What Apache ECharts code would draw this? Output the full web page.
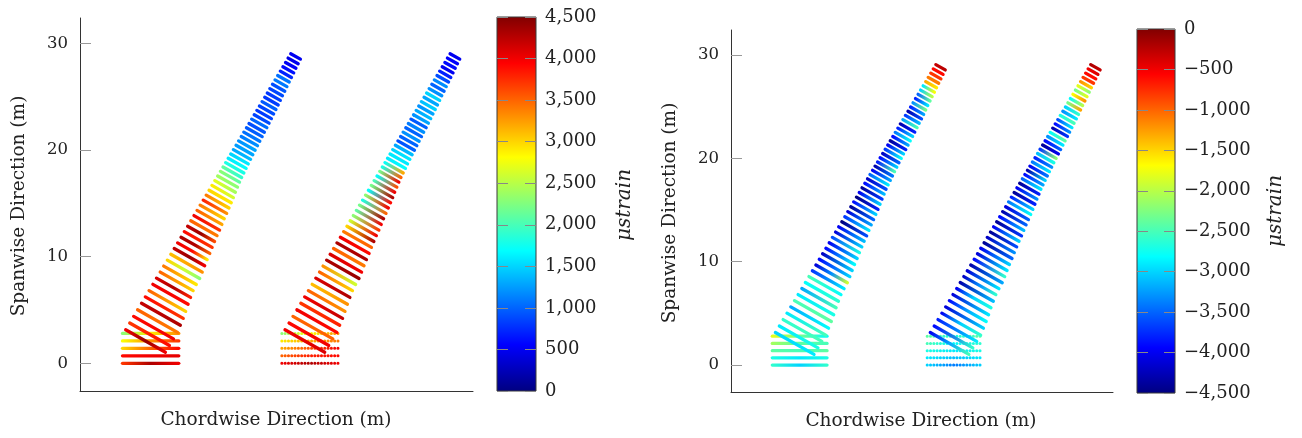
<!DOCTYPE html>
<html><head><meta charset="utf-8">
<script src="https://cdn.jsdelivr.net/npm/echarts@6/dist/echarts.min.js"></script>
<style>html,body{margin:0;padding:0;background:#fff}#c{width:1302px;height:438px}</style>
</head><body><div id="c"></div>
<script>
// ---------- mesh geometry (m) : chordwise strips of the wing ----------
const stripLeX = [0.30,0.68,1.05,1.42,1.79,2.15,2.50,2.86,3.20,3.55,3.88,4.22,4.55,4.87,5.19,5.51,5.82,6.13,6.43,6.73,7.02,7.31,7.60,7.88,8.15,8.42,8.69,8.96,9.22,9.46,9.71,9.95,10.19,10.44,10.69,10.93,11.18,11.42,11.67,11.91,12.16,12.40,12.65,12.89,13.14,13.39,13.63,13.87,14.12,14.36,14.61,14.86,15.10,15.35,15.59,15.84];
const stripLeY = [3.15,3.78,4.40,5.02,5.63,6.23,6.82,7.41,7.99,8.56,9.12,9.68,10.23,10.77,11.30,11.83,12.35,12.86,13.37,13.86,14.35,14.84,15.31,15.78,16.24,16.69,17.14,17.58,18.01,18.42,18.83,19.24,19.64,20.05,20.46,20.87,21.28,21.69,22.10,22.50,22.91,23.32,23.73,24.14,24.55,24.96,25.36,25.77,26.18,26.59,27.00,27.41,27.82,28.23,28.64,29.05];
const stripTeX = [4.04,4.42,4.80,5.18,5.45,5.72,5.95,6.18,6.41,6.65,6.95,7.27,7.51,7.74,7.97,8.22,8.44,8.67,8.90,9.14,9.36,9.58,9.81,10.03,10.24,10.44,10.63,10.83,11.02,11.22,11.43,11.64,11.84,12.06,12.27,12.49,12.71,12.93,13.15,13.36,13.59,13.80,14.02,14.23,14.45,14.66,14.86,15.06,15.28,15.48,15.70,15.91,16.12,16.33,16.54,16.75];
const stripTeY = [1.04,1.67,2.29,2.90,3.57,4.22,4.87,5.54,6.18,6.82,7.39,7.96,8.56,9.15,9.73,10.31,10.88,11.43,11.98,12.50,13.03,13.56,14.07,14.57,15.06,15.55,16.05,16.53,17.00,17.43,17.86,18.29,18.71,19.14,19.57,19.99,20.42,20.84,21.27,21.68,22.11,22.53,22.96,23.39,23.81,24.24,24.67,25.10,25.53,25.96,26.39,26.82,27.25,27.68,28.11,28.54];
const rootY = [0, 0.7, 1.4, 2.1, 2.8];
const rootLeX = 0.0, rootTeX = 5.3;
const secondWingOffset = 15.0;   // chordwise offset of the second surface

// ---------- strain values (microstrain), LE -> TE along each strip ----------
const tensionUpperRoot = [[3700,4300,4000],[3900,4000,4050],[3000,3500,3900],[2800,3300,3700],[2300,2900,3300]];
const tensionUpperStrips = [[4000,4400,4000],[3700,3900],[3900,4000],[3500,3400],[4200,4300],[3900,3700],[3500,3000],[4000,3900],[4100,4300,3800],[3500,3000],
 [3400,2900],[3000,2600,2300],[3100,3300],[4200,4400,4000],[4000,3900,2900],[4300,4300,3500],[3900,3700],[4200,4400,3600],[3500,3400],[4000,3700],
 [3500,3200],[3400,3000],[3800,3300],[3400,3000],[3000,2900],[2900,2600],[2700,2400],[2400,2300],[2300,2100],[2100,1900],
 [1800,1800],[1600,1700],[1500,1600],[1300,1400],[1250,1300],[1200,1300],[1100,1200],[1050,1100],[950,1000],[900,950],
 [1000,1050],[850,900],[800,850],[850,900],[950,1000],[800,850],[800,850],[850,900],[900,950],[1100,1100],
 [1050,1100],[700,750],[600,650],[500,550],[450,500],[500,500]];
const tensionLowerRoot = [[4000,4300,4000],[3500,3800,3900],[3200,3600,4000],[2900,3200,3400],[2300,2800,3300]];
const tensionLowerStrips = [[4000,4100],[3900,4000],[3500,3500],[4000,3900],[3700,3800],[4000,4200],[3500,3300],[3100,3300],[4100,4300],[3500,3000],
 [3300,2600],[4300,4400],[4100,4000],[3500,3400],[4300,4300],[4000,3900],[3400,3500],[3000,4300],[2600,4000],[2300,3700],
 [2100,4000],[2200,4300],[1800,3500],[2300,4000],[1700,3900],[2200,4300],[2000,4000],[1700,3600],[2200,4000],[1800,3500],
 [1700,3200],[1600,1700],[1600,1600],[1500,1600],[1300,1400],[900,1000],[1000,1000],[1200,1200],[1000,1000],[1100,1200],
 [950,1000],[1200,1300],[1300,1400],[1200,1300],[1400,1500],[1300,1300],[1500,1500],[1200,1200],[1000,1000],[1150,1200],
 [900,900],[700,700],[500,500],[600,600],[550,550],[500,500]];
const compUpperRoot = [[-2600,-3000,-2600],[-2700,-2900,-2700],[-2400,-2500,-2400],[-2100,-2400,-2500],[-1800,-2300,-2800]];
const compUpperStrips = [[-3000,-2900],[-2900,-2700],[-2600,-2500],[-2900,-2500],[-3200,-2800],[-2500,-2400],[-2900,-2700],[-3200,-2500],[-2800,-2600],[-2500,-2800],
 [-3700,-2900],[-4100,-3300,-1900],[-3900,-3000],[-4200,-3000],[-3900,-2800],[-4000,-3000],[-3600,-2700],[-4100,-3000],[-4000,-3100],[-4500,-3600],
 [-3700,-2900],[-4100,-3200],[-4400,-3500],[-3900,-3000],[-4500,-3800],[-4000,-3000],[-4400,-3700],[-3900,-3100],[-4200,-3600],[-3500,-2900],
 [-4000,-3200],[-4300,-3400],[-3800,-2500],[-3900,-3000],[-4200,-3500],[-3700,-2800],[-4000,-3000],[-4400,-3800],[-3900,-3200],[-3400,-2800],
 [-3800,-3000],[-4300,-3800],[-3200,-2500],[-3700,-3100],[-4300,-3600],[-3800,-3200],[-3300,-2300],[-3800,-2900],[-3500,-2400],[-3000,-2000],
 [-2900,-1700],[-1300,-1600],[-1100,-1100],[-800,-800],[-600,-600],[-300,-250]];
const compLowerRoot = [[-3000,-3400,-3000],[-2900,-3100,-2900],[-2700,-2900,-2700],[-2500,-2800,-2600],[-2400,-2700,-2400]];
const compLowerStrips = [[-4000,-3200,-2500],[-3900,-2600],[-3800,-2900],[-4000,-3000,-2600],[-4100,-3000],[-3900,-3200,-2800],[-4100,-2900],[-4000,-3000,-2700],[-4300,-3100],[-4200,-3300,-2600],
 [-4100,-2900],[-4300,-3200],[-3900,-2600],[-4100,-2900],[-4000,-3000],[-4400,-3500],[-4200,-3300],[-4400,-3600],[-4000,-3000],[-4400,-3700],
 [-3900,-3100],[-4300,-3500],[-4100,-3500],[-3400,-2800],[-3800,-3000],[-4400,-3800],[-4000,-3300],[-4400,-3800],[-3500,-2900],[-3900,-3200],
 [-4300,-3000],[-4000,-3400],[-3400,-2900],[-3800,-3300],[-3100,-2700],[-3700,-2200],[-4400,-4000],[-3900,-3500],[-3300,-2900],[-2800,-2400],
 [-4300,-3700],[-3900,-3300],[-3600,-2900],[-2700,-2500],[-3300,-2900],[-3000,-2600],[-2300,-1300],[-2800,-2000],[-1700,-1200],[-2300,-1800],
 [-1800,-2200],[-1200,-1500],[-800,-800],[-600,-600],[-500,-400],[-200,-300]];

// ---------- axes / colorbar ticks ----------
const spanTicks = [0, 10, 20, 30];
const tensionRange = [0, 4500];
const compRange = [-4500, 0];
const cbInterval = 500;

// ---------- jet colormap ----------
const jet = [[0,[0,0,128]],[0.125,[0,0,255]],[0.375,[0,255,255]],[0.625,[255,255,0]],[0.875,[255,0,0]],[1,[128,0,0]]];
function jetColor(t){
  t = Math.max(0, Math.min(1, t));
  for (let k = 1; k < jet.length; k++) {
    if (t <= jet[k][0]) {
      const a = jet[k-1], b = jet[k], f = (t - a[0]) / (b[0] - a[0]);
      const c = a[1].map((v, j) => Math.round(v + (b[1][j] - v) * f));
      return 'rgb(' + c.join(',') + ')';
    }
  }
  return 'rgb(128,0,0)';
}
const FONT = '"DejaVu Serif", "Liberation Serif", serif';
function fmt(v){
  const s = Math.abs(v).toString().replace(/\B(?=(\d{3})+(?!\d))/g, ',');
  return (v < 0 ? '\u2212' : '') + s;
}

function stripRender(values, range, dotted){
  return function(params, api){
    const p0 = api.coord([api.value(0), api.value(1)]);
    const p1 = api.coord([api.value(2), api.value(3)]);
    const vals = values[params.dataIndex];
    const stops = vals.map((v, k) => ({offset: k / (vals.length - 1), color: jetColor((v - range[0]) / (range[1] - range[0]))}));
    const grad = new echarts.graphic.LinearGradient(p0[0], p0[1], p1[0], p1[1], stops, true);
    return {type: 'line', shape: {x1: p0[0], y1: p0[1], x2: p1[0], y2: p1[1]},
      style: dotted ? {stroke: grad, lineWidth: 3, lineCap: 'round', lineDash: [0.1, 3.2]}
                    : {stroke: grad, lineWidth: 3.3, lineCap: 'round'}};
  };
}
function rootData(offset){ return rootY.map(y => [rootLeX + offset, y, rootTeX + offset, y]); }
function stripData(offset){ return stripLeX.map((x, i) => [x + offset, stripLeY[i], stripTeX[i] + offset, stripTeY[i]]); }

function wingSeries(axisIdx, rootVals, stripVals, range, offset, dottedRoot){
  return [
    {type: 'custom', xAxisIndex: axisIdx, yAxisIndex: axisIdx, data: rootData(offset), renderItem: stripRender(rootVals, range, dottedRoot), z: 2, silent: true, clip: true},
    {type: 'custom', xAxisIndex: axisIdx, yAxisIndex: axisIdx, data: stripData(offset), renderItem: stripRender(stripVals, range, false), z: 3, silent: true, clip: true}
  ];
}
function colorbarSeries(axisIdx, range){
  return {type: 'custom', xAxisIndex: axisIdx, yAxisIndex: axisIdx, data: [[0, range[0], 1, range[1]]], silent: true, z: 1,
    renderItem: function(params, api){
      const a = api.coord([0, api.value(3)]);
      const b = api.coord([1, api.value(1)]);
      const stops = jet.map(s => ({offset: 1 - s[0], color: 'rgb(' + s[1].join(',') + ')'}));
      stops.reverse();
      return {type: 'rect', shape: {x: a[0], y: a[1], width: b[0] - a[0], height: b[1] - a[1]},
        style: {fill: new echarts.graphic.LinearGradient(0, 0, 0, 1, stops), stroke: '#3a3a3a', lineWidth: 1}};
    }};
}

const mainGrids = [{left: 80, top: 18, width: 393, height: 373}, {left: 731, top: 30, width: 382, height: 362}];
const cbGrids = [{left: 497, top: 17, width: 39, height: 374}, {left: 1137, top: 29, width: 38, height: 364}];
const grids = mainGrids.concat(cbGrids);

const xAxes = [0, 1].map(g => ({type: 'value', gridIndex: g, min: -4, max: 33, axisLine: {show: true, onZero: false, lineStyle: {color: '#333', width: 1}},
  axisTick: {show: false}, axisLabel: {show: false}, splitLine: {show: false}}))
  .concat([2, 3].map(g => ({type: 'value', gridIndex: g, min: 0, max: 1, show: false, axisLine: {onZero: false}})));
const yAxes = [0, 1].map(g => ({type: 'value', gridIndex: g, min: -2.6, max: 32.4, z: 5,
  axisLine: {show: true, onZero: false, lineStyle: {color: '#333', width: 1}},
  axisTick: {show: true, inside: true, length: 11, customValues: spanTicks, lineStyle: {color: '#999'}},
  axisLabel: {show: true, customValues: spanTicks, fontFamily: FONT, fontSize: 16.5, color: '#222', margin: 12},
  splitLine: {show: false}}))
  .concat([[2, tensionRange], [3, compRange]].map(([g, r]) => ({type: 'value', gridIndex: g, min: r[0], max: r[1], interval: cbInterval, position: 'right', z: 5,
    axisLine: {show: false, onZero: false}, axisTick: {show: true, inside: true, length: 11, lineStyle: {color: '#888'}},
    axisLabel: {show: true, fontFamily: FONT, fontSize: 18, color: '#222', margin: 9, formatter: v => fmt(v)}, splitLine: {show: false}})))
  .concat([[2, tensionRange], [3, compRange]].map(([g, r]) => ({type: 'value', gridIndex: g, min: r[0], max: r[1], interval: cbInterval, position: 'left', z: 5,
    axisLine: {show: false, onZero: false}, axisTick: {show: true, inside: true, length: 11, lineStyle: {color: '#888'}},
    axisLabel: {show: false}, splitLine: {show: false}})));

const series = [].concat(
  wingSeries(0, tensionUpperRoot, tensionUpperStrips, tensionRange, 0, false),
  wingSeries(0, tensionLowerRoot, tensionLowerStrips, tensionRange, secondWingOffset, true),
  wingSeries(1, compUpperRoot, compUpperStrips, compRange, 0, false),
  wingSeries(1, compLowerRoot, compLowerStrips, compRange, secondWingOffset, true),
  [colorbarSeries(2, tensionRange), colorbarSeries(3, compRange)]
);

function label(text, x, y, rot, size, italic){
  return {type: 'text', x: x, y: y, rotation: rot, silent: true,
    style: {text: text, fontFamily: FONT, fontSize: size, fontStyle: italic ? 'italic' : 'normal', fill: '#222', align: 'center', verticalAlign: 'middle'}};
}
const chart = echarts.init(document.getElementById('c'), null, {renderer: 'canvas'});
chart.setOption({
  animation: false,
  backgroundColor: '#fff',
  grid: grids,
  xAxis: xAxes,
  yAxis: yAxes,
  series: series,
  graphic: [
    label('Spanwise Direction (m)', 19, 206, Math.PI / 2, 18.5),
    label('Chordwise Direction (m)', 276, 420, 0, 18.5),
    label('Spanwise Direction (m)', 670, 213, Math.PI / 2, 18.5),
    label('Chordwise Direction (m)', 921, 421, 0, 18.5),
    label('\u03bcstrain', 625, 205, Math.PI / 2, 20, true),
    label('\u03bcstrain', 1276, 211, Math.PI / 2, 20, true)
  ]
});
</script></body></html>
